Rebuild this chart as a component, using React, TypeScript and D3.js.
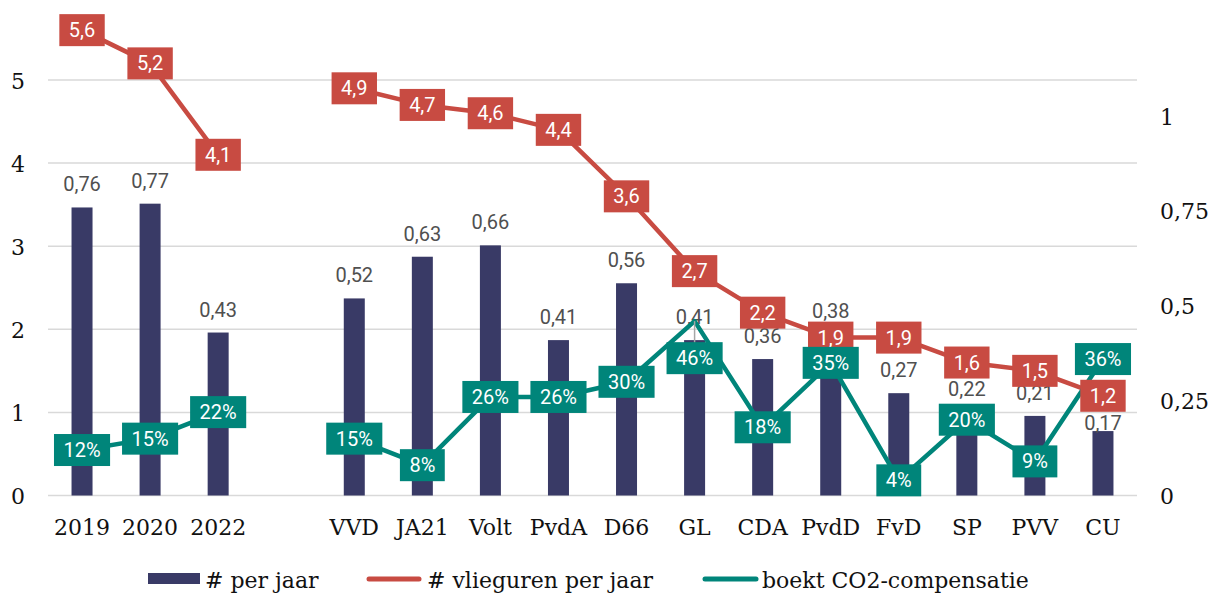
import React from "react";
import * as d3 from "d3";

const categories: string[] = ["2019", "2020", "2022", "", "VVD", "JA21", "Volt", "PvdA", "D66", "GL", "CDA", "PvdD", "FvD", "SP", "PVV", "CU"];
const perJaar: (number | null)[] = [0.76, 0.77, 0.43, null, 0.52, 0.63, 0.66, 0.41, 0.56, 0.41, 0.36, 0.38, 0.27, 0.22, 0.21, 0.17];
const vlieguren: (number | null)[] = [5.6, 5.2, 4.1, null, 4.9, 4.7, 4.6, 4.4, 3.6, 2.7, 2.2, 1.9, 1.9, 1.6, 1.5, 1.2];
const co2: (number | null)[] = [0.12, 0.15, 0.22, null, 0.15, 0.08, 0.26, 0.26, 0.30, 0.46, 0.18, 0.35, 0.04, 0.20, 0.09, 0.36];
const leftTicks: number[] = [0, 1, 2, 3, 4, 5];
const rightTicks: number[] = [0, 0.25, 0.5, 0.75, 1];
const legendLabels: string[] = ["# per jaar", "# vlieguren per jaar", "boekt CO2-compensatie"];

const W = 1214;
const H = 593;
const NAVY = "#393a66";
const RED = "#c84b42";
const GREEN = "#00857a";
const GRID = "#d9d9d9";
const SERIF = "'DejaVu Serif', serif";
const SANS = "Roboto, 'Noto Sans', sans-serif";

const fmt = (v: number) => String(v).replace(".", ",");
const pct = (v: number) => `${Math.round(v * 100)}%`;

// manual label nudges (as in the reference)
const barLabelOffset = (cat: string) => (cat === "PvdD" ? 33 : cat === "CU" ? 1 : 16);

export default function App() {
  const x = d3.scaleBand<string>().domain(categories.map((c, i) => `${i}`)).range([48, 1137]).paddingInner(0).paddingOuter(0);
  const yL = d3.scaleLinear().domain([0, 5]).range([495.5, 80]);
  const yR = d3.scaleLinear().domain([0, 1]).range([495.5, 116.5]);
  const cx = (i: number) => (x(`${i}`) as number) + x.bandwidth() / 2;
  const barW = 21;

  const redLine = d3.line<number | null>()
    .defined((d) => d != null)
    .x((_, i) => cx(i))
    .y((d) => yL(d as number));
  const greenLine = d3.line<number | null>()
    .defined((d) => d != null)
    .x((_, i) => cx(i))
    .y((d) => yR(d as number));

  const charW = (s: string, size: number) => {
    let w = 0;
    for (const ch of s) {
      if (ch === ",") w += 0.197;
      else if (ch === "%") w += 0.732;
      else w += 0.5615;
    }
    return w * size;
  };
  const boxH = 32;
  const padX = 9.5;
  const fs = 20;

  const labelBox = (cxp: number, cyp: number, text: string, fill: string, key: string) => {
    const w = charW(text, fs) + padX * 2;
    return (
      <g key={key}>
        <rect x={cxp - w / 2} y={cyp - boxH / 2} width={w} height={boxH} fill={fill} />
        <text x={cxp} y={cyp + 7} textAnchor="middle" fontFamily={SANS} fontSize={fs} fill="#ffffff">{text}</text>
      </g>
    );
  };

  return (
    <svg width={W} height={H} style={{ position: "absolute", left: 0, top: 0, display: "block", background: "#fff" }}>
      {leftTicks.map((t) => (
        <line key={`g${t}`} x1={48} x2={1137} y1={yL(t)} y2={yL(t)} stroke={GRID} strokeWidth={1.5} />
      ))}
      {leftTicks.map((t) => (
        <text key={`l${t}`} x={25} y={yL(t) + 8.5} textAnchor="end" fontFamily={SERIF} fontSize={22} fill="#111">{t}</text>
      ))}
      {rightTicks.map((t) => (
        <text key={`r${t}`} x={1160} y={yR(t) + 8} textAnchor="start" fontFamily={SERIF} fontSize={22} fill="#111">{fmt(t)}</text>
      ))}
      {categories.map((c, i) => (
        <text key={`c${i}`} x={cx(i)} y={535} textAnchor="middle" fontFamily={SERIF} fontSize={22} fill="#111">{c}</text>
      ))}
      {perJaar.map((v, i) => v == null ? null : (
        <rect key={`b${i}`} x={cx(i) - barW / 2} y={yR(v)} width={barW} height={yR(0) - yR(v)} fill={NAVY} />
      ))}
      {perJaar.map((v, i) => v == null ? null : (
        <text key={`bl${i}`} x={cx(i)} y={yR(v) - barLabelOffset(categories[i])} textAnchor="middle" fontFamily={SANS} fontSize={20} fill="#505050">{fmt(v)}</text>
      ))}
      <path d={redLine(vlieguren) || ""} fill="none" stroke={RED} strokeWidth={4.5} strokeLinejoin="round" />
      <path d={greenLine(co2) || ""} fill="none" stroke={GREEN} strokeWidth={4.5} strokeLinejoin="round" />
      {co2.map((v, i) => (v != null && categories[i] === "GL") ? (
        <line key={`ld${i}`} x1={cx(i)} x2={cx(i)} y1={yR(v)} y2={yR(v) + 22} stroke="#a6a6a6" strokeWidth={1.5} />
      ) : null)}
      {vlieguren.map((v, i) => v == null ? null : labelBox(cx(i), yL(v), fmt(v), RED, `rl${i}`))}
      {co2.map((v, i) => v == null ? null : labelBox(cx(i), categories[i] === "GL" ? yR(v) + 37 : yR(v), pct(v), GREEN, `gl${i}`))}
      <g>
        <rect x={148} y={573} width={52} height={11} fill={NAVY} />
        <text x={205} y={588} fontFamily={SERIF} fontSize={22} fill="#111">{legendLabels[0]}</text>
        <line x1={369} x2={419} y1={579} y2={579} stroke={RED} strokeWidth={5} strokeLinecap="round" />
        <text x={427} y={588} fontFamily={SERIF} fontSize={22} fill="#111">{legendLabels[1]}</text>
        <line x1={705} x2={756} y1={579} y2={579} stroke={GREEN} strokeWidth={5} strokeLinecap="round" />
        <text x={762} y={588} fontFamily={SERIF} fontSize={22} fill="#111">{legendLabels[2]}</text>
      </g>
    </svg>
  );
}
